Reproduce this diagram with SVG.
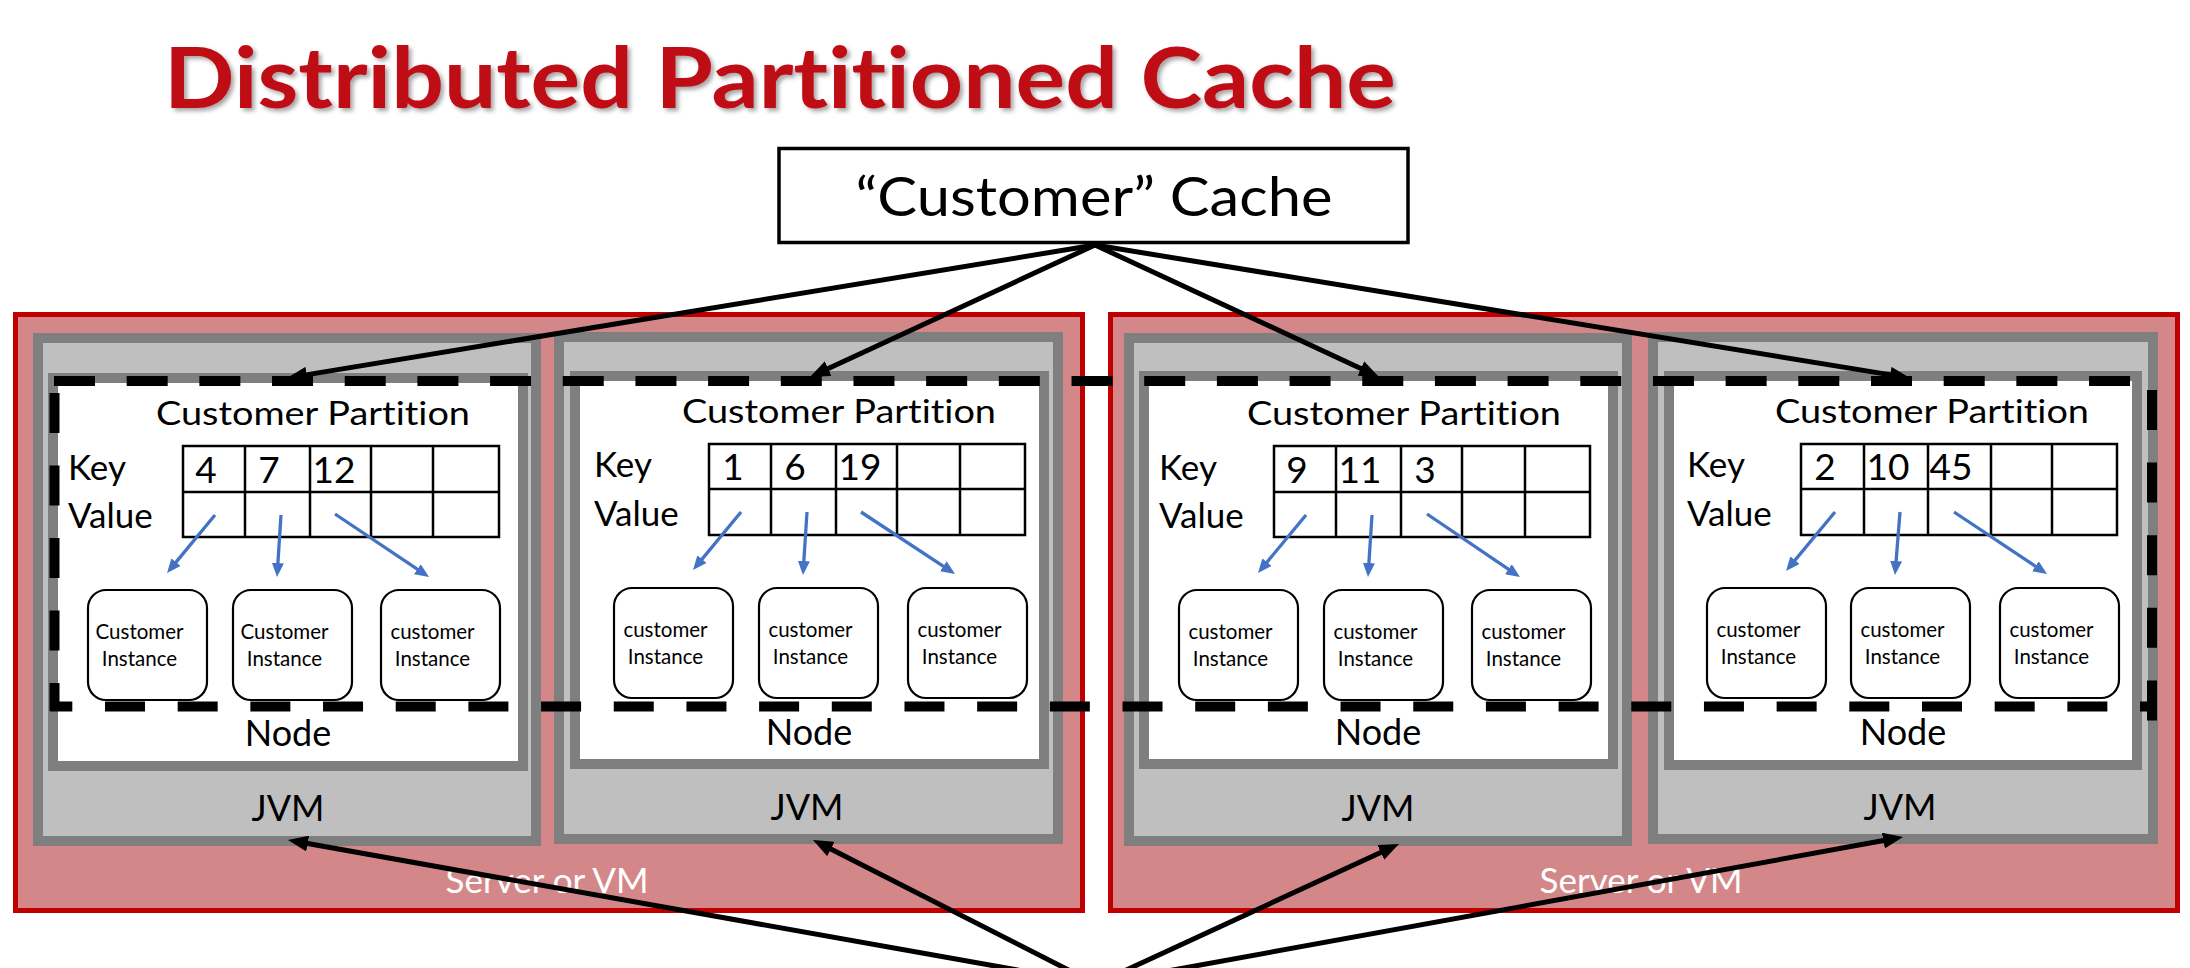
<svg xmlns="http://www.w3.org/2000/svg" width="2190" height="968" viewBox="0 0 2190 968">
<defs>
<style>
.srv{fill:#D48789;stroke:#C00000;stroke-width:5}
.jvm{fill:#BFBFBF;stroke:#7F7F7F;stroke-width:10}
.node{fill:#fff;stroke:#7F7F7F;stroke-width:10}
text{font-family:Lato,"Liberation Sans",sans-serif;fill:#000;font-variant-ligatures:none}
.cp{font-size:33px;text-anchor:middle}
.kv{font-size:35px}
.num{font-size:37px;text-anchor:middle}
.inst{fill:#fff;stroke:#000;stroke-width:2.2}
.it{font-size:20.5px;text-anchor:middle}
.lbl{font-size:36px;text-anchor:middle}
.svr{font-size:35px;fill:#fff;text-anchor:middle}
.tbl{fill:#fff;stroke:#000;stroke-width:2.5}
.tl{stroke:#000;stroke-width:2.5}
.blue{stroke:#4472C4;stroke-width:3.3;fill:none;marker-end:url(#ab)}
.blk{stroke:#000;stroke-width:5;fill:none;marker-end:url(#ak)}
.dash{stroke:#000;stroke-width:10;fill:none}
</style>
<marker id="ak" markerUnits="userSpaceOnUse" markerWidth="20" markerHeight="16" refX="10" refY="8" orient="auto"><path d="M0,0 L20,8 L0,16 z" fill="#000"/></marker>
<marker id="ab" markerUnits="userSpaceOnUse" markerWidth="14" markerHeight="12" refX="7" refY="6" orient="auto"><path d="M0,0 L14,6 L0,12 z" fill="#4472C4"/></marker>
<filter id="sh" x="-5%" y="-20%" width="110%" height="150%"><feDropShadow dx="3" dy="3" stdDeviation="2" flood-color="#000" flood-opacity="0.35"/></filter>
</defs>
<rect width="2190" height="968" fill="#fff"/>

<g id="title"><text x="164" y="108" font-size="84" font-weight="bold" textLength="1232" lengthAdjust="spacingAndGlyphs" style="fill:#BF0B16" filter="url(#sh)">Distributed Partitioned Cache</text></g>

<g id="customer-cache"><rect x="779" y="148.5" width="629" height="94" fill="#fff" stroke="#000" stroke-width="3.5"/><text x="1094" y="216" font-size="54" text-anchor="middle" textLength="477" lengthAdjust="spacingAndGlyphs">“Customer” Cache</text></g>

<g id="server1"><rect class="srv" x="15.5" y="314.5" width="1067" height="596"/><text class="svr" x="547" y="893">Server or VM</text>
<g id="jvm1"><rect class="jvm" x="38" y="338" width="498" height="503"/><text class="lbl" x="288" y="821">JVM</text>
<g id="node1"><rect class="node" x="53" y="378" width="470" height="388"/><text class="lbl" x="288" y="746">Node</text>
<g id="partition1">
<text class="cp" x="313" y="425" textLength="314" lengthAdjust="spacingAndGlyphs">Customer Partition</text>
<text class="kv" x="68" y="480">Key</text><text class="kv" x="68" y="528">Value</text>
<rect class="tbl" x="183" y="446" width="316" height="91"/><path class="tl" d="M183,492H499M245,446V537M310,446V537M371,446V537M433,446V537"/>
<text class="num" x="206" y="483">4</text><text class="num" x="269" y="483">7</text><text class="num" x="334" y="483">12</text>
<path class="blue" d="M215,515L171.5,567.6"/><path class="blue" d="M281,515L277.45,570"/><path class="blue" d="M335,514L423.2,573.1"/>
<g id="inst1a"><rect class="inst" x="88" y="590" width="119" height="110" rx="18"/><text class="it" x="139.5" y="639">Customer</text><text class="it" x="139.5" y="666">Instance</text></g>
<g id="inst1b"><rect class="inst" x="233" y="590" width="119" height="110" rx="18"/><text class="it" x="284.5" y="639">Customer</text><text class="it" x="284.5" y="666">Instance</text></g>
<g id="inst1c"><rect class="inst" x="381" y="590" width="119" height="110" rx="18"/><text class="it" x="432.5" y="639">customer</text><text class="it" x="432.5" y="666">Instance</text></g>
</g></g></g>
<g id="jvm2"><rect class="jvm" x="559" y="337" width="499" height="502"/><text class="lbl" x="807" y="820">JVM</text>
<g id="node2"><rect class="node" x="575" y="376" width="469" height="388"/><text class="lbl" x="809" y="745">Node</text>
<g id="partition2">
<text class="cp" x="839" y="423" textLength="314" lengthAdjust="spacingAndGlyphs">Customer Partition</text>
<text class="kv" x="594" y="477">Key</text><text class="kv" x="594" y="526">Value</text>
<rect class="tbl" x="709" y="444" width="316" height="91"/><path class="tl" d="M709,489H1025M771,444V535M836,444V535M897,444V535M960,444V535"/>
<text class="num" x="733" y="480">1</text><text class="num" x="795" y="480">6</text><text class="num" x="860" y="480">19</text>
<path class="blue" d="M741,512L697.5,564.6"/><path class="blue" d="M807,512L803.4,568"/><path class="blue" d="M861,512L949.2,570.1"/>
<g id="inst2a"><rect class="inst" x="614" y="588" width="119" height="110" rx="18"/><text class="it" x="665.5" y="637">customer</text><text class="it" x="665.5" y="664">Instance</text></g>
<g id="inst2b"><rect class="inst" x="759" y="588" width="119" height="110" rx="18"/><text class="it" x="810.5" y="637">customer</text><text class="it" x="810.5" y="664">Instance</text></g>
<g id="inst2c"><rect class="inst" x="908" y="588" width="119" height="110" rx="18"/><text class="it" x="959.5" y="637">customer</text><text class="it" x="959.5" y="664">Instance</text></g>
</g></g></g>
</g>

<g id="server2"><rect class="srv" x="1110.5" y="314.5" width="1067" height="596"/><text class="svr" x="1641" y="893">Server or VM</text>
<g id="jvm3"><rect class="jvm" x="1129" y="338" width="498" height="503"/><text class="lbl" x="1378" y="821">JVM</text>
<g id="node3"><rect class="node" x="1144" y="376" width="469" height="388"/><text class="lbl" x="1378" y="745">Node</text>
<g id="partition3">
<text class="cp" x="1404" y="425" textLength="314" lengthAdjust="spacingAndGlyphs">Customer Partition</text>
<text class="kv" x="1159" y="480">Key</text><text class="kv" x="1159" y="528">Value</text>
<rect class="tbl" x="1274" y="446" width="316" height="91"/><path class="tl" d="M1274,492H1590M1336,446V537M1401,446V537M1462,446V537M1525,446V537"/>
<text class="num" x="1297" y="483">9</text><text class="num" x="1360" y="483">11</text><text class="num" x="1425" y="483">3</text>
<path class="blue" d="M1306,515L1262.5,567.6"/><path class="blue" d="M1372,515L1368.45,570"/><path class="blue" d="M1427,514L1514.2,573.1"/>
<g id="inst3a"><rect class="inst" x="1179" y="590" width="119" height="110" rx="18"/><text class="it" x="1230.5" y="639">customer</text><text class="it" x="1230.5" y="666">Instance</text></g>
<g id="inst3b"><rect class="inst" x="1324" y="590" width="119" height="110" rx="18"/><text class="it" x="1375.5" y="639">customer</text><text class="it" x="1375.5" y="666">Instance</text></g>
<g id="inst3c"><rect class="inst" x="1472" y="590" width="119" height="110" rx="18"/><text class="it" x="1523.5" y="639">customer</text><text class="it" x="1523.5" y="666">Instance</text></g>
</g></g></g>
<g id="jvm4"><rect class="jvm" x="1653" y="337" width="500" height="502"/><text class="lbl" x="1900" y="820">JVM</text>
<g id="node4"><rect class="node" x="1669" y="376" width="468" height="389"/><text class="lbl" x="1903" y="745">Node</text>
<g id="partition4">
<text class="cp" x="1932" y="423" textLength="314" lengthAdjust="spacingAndGlyphs">Customer Partition</text>
<text class="kv" x="1687" y="477">Key</text><text class="kv" x="1687" y="526">Value</text>
<rect class="tbl" x="1801" y="444" width="316" height="91"/><path class="tl" d="M1801,489H2117M1864,444V535M1928,444V535M1991,444V535M2052,444V535"/>
<text class="num" x="1825" y="480">2</text><text class="num" x="1888" y="480">10</text><text class="num" x="1951" y="480">45</text>
<path class="blue" d="M1835,512L1790.5,565.6"/><path class="blue" d="M1900,512L1895.55,568"/><path class="blue" d="M1954,512L2041.2,570.1"/>
<g id="inst4a"><rect class="inst" x="1707" y="588" width="119" height="110" rx="18"/><text class="it" x="1758.5" y="637">customer</text><text class="it" x="1758.5" y="664">Instance</text></g>
<g id="inst4b"><rect class="inst" x="1851" y="588" width="119" height="110" rx="18"/><text class="it" x="1902.5" y="637">customer</text><text class="it" x="1902.5" y="664">Instance</text></g>
<g id="inst4c"><rect class="inst" x="2000" y="588" width="119" height="110" rx="18"/><text class="it" x="2051.5" y="637">customer</text><text class="it" x="2051.5" y="664">Instance</text></g>
</g></g></g>
</g>

<g id="cache-boundary">
<path class="dash" d="M54,381H2157" stroke-dasharray="41 31.68"/>
<path class="dash" d="M50,706.5H2157" stroke-dasharray="40 32.68" stroke-dashoffset="17.68"/>
<path class="dash" d="M54.5,393V711" stroke-dasharray="40 32.5"/>
<path class="dash" d="M2152,390V721" stroke-dasharray="40 32.6"/>
</g>

<g id="connectors">
<path class="blk" d="M1095,245L296.9,376.4"/>
<path class="blk" d="M1095,245L819.1,372.8"/>
<path class="blk" d="M1095,245L1369.9,372.8"/>
<path class="blk" d="M1095,245L1900.1,376.4"/>
<path class="blk" d="M1096,984L297.8,841.8"/>
<path class="blk" d="M1096,984L821.9,844.5"/>
<path class="blk" d="M1096,984L1389.9,848.2"/>
<path class="blk" d="M1096,984L1893.2,838.8"/>
</g>
</svg>
